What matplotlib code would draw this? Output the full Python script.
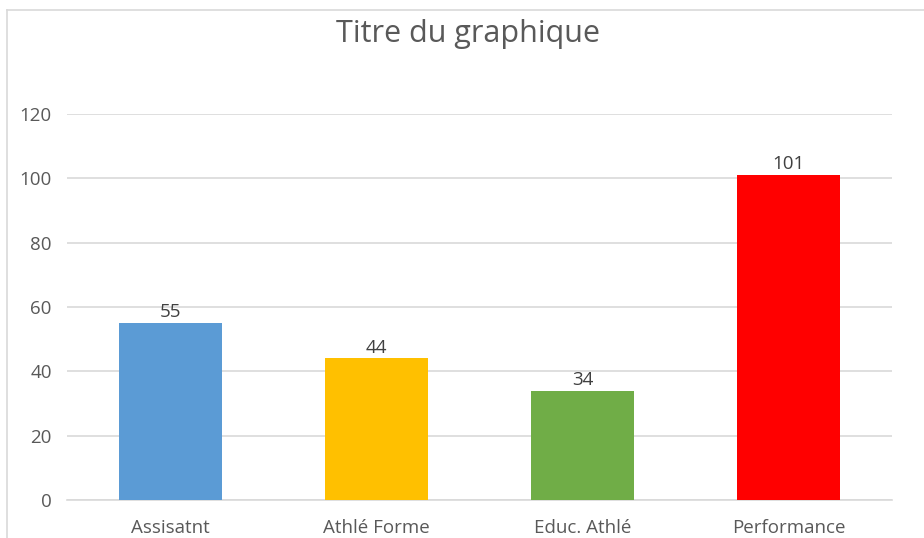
import matplotlib.pyplot as plt
from matplotlib.lines import Line2D

categories = ['Assisatnt', 'Athlé Forme', 'Educ. Athlé', 'Performance']
values = [55, 44, 34, 101]
colors = ['#5B9BD5', '#FFC000', '#70AD47', '#FF0000']
yticks = [0, 20, 40, 60, 80, 100, 120]

plt.rcParams['font.family'] = ['Open Sans', 'DejaVu Sans']
text_col = '#595959'
grid_col = '#D9D9D9'

fig = plt.figure(figsize=(9.24, 5.38), dpi=100)
ax = fig.add_axes([67 / 924, 1 - 500 / 538, (892 - 67) / 924, (500 - 114) / 538])

x = range(len(categories))
bars = ax.bar(x, values, width=0.5, color=colors, zorder=3)
for b, v in zip(bars, values):
    ax.text(b.get_x() + b.get_width() / 2, v + 0.6, str(v), ha='center', va='bottom',
            fontsize=13.5, color='#404040')

ax.set_xlim(-0.5, len(categories) - 0.5)
ax.set_ylim(0, 120)
ax.set_yticks(yticks)
ax.yaxis.grid(True, color=grid_col, linewidth=1.2, zorder=0)
ax.set_xticks(list(x))
ax.set_xticklabels(categories)
ax.tick_params(length=0, labelsize=13.5, colors=text_col)
ax.tick_params(axis='y', pad=11)
ax.tick_params(axis='x', pad=14)
for s in ['top', 'right', 'left']:
    ax.spines[s].set_visible(False)
ax.spines['bottom'].set_color(grid_col)
ax.spines['bottom'].set_linewidth(1.2)

fig.text(468 / 924, 1 - 42 / 538, 'Titre du graphique', ha='center', va='baseline',
         fontsize=22, color=text_col)

# chart area border (cropped at right/bottom)
fig.add_artist(Line2D([7 / 924, 7 / 924], [0, 1 - 10 / 538], transform=fig.transFigure,
                      color=grid_col, linewidth=1.2))
fig.add_artist(Line2D([7 / 924, 1], [1 - 10 / 538, 1 - 10 / 538], transform=fig.transFigure,
                      color=grid_col, linewidth=1.2))

fig.savefig('out.png', dpi=100)
